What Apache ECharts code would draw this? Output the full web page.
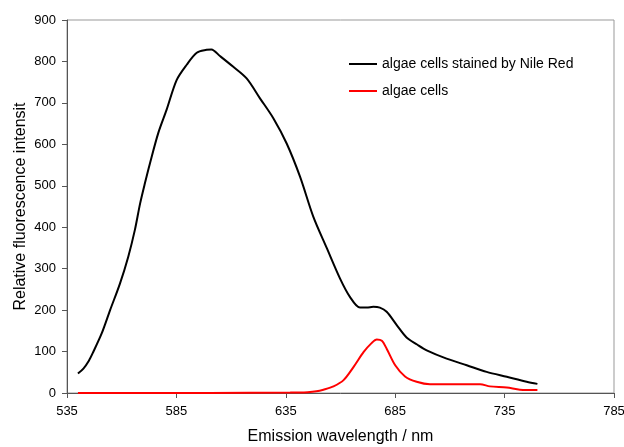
<!DOCTYPE html>
<html>
<head>
<meta charset="utf-8">
<script src="https://cdn.jsdelivr.net/npm/echarts@6/dist/echarts.min.js"></script>
<style>
html, body { margin: 0; padding: 0; background: #fff; }
#chart { width: 624px; height: 447px; }
</style>
</head>
<body>
<div id="chart"></div>
<script>
// x tick labels (nm)
var xTicks = [535, 585, 635, 685, 735, 785];

// algae cells stained by Nile Red
var stainedX = [540, 542.5, 545, 547, 550.8, 554.7, 559.2, 563, 566, 568.4, 570.6, 572.9, 576.7, 580.5, 585.1, 589.7, 594.3, 598.8, 601, 604.9, 611, 617.1, 623.2, 629.3, 635.4, 641.5, 647.6, 653.7, 659.8, 664.3, 668.9, 672, 675, 678, 681.1, 685.7, 690.2, 695, 699.4, 708.5, 717.7, 726.8, 736, 745.1, 750];
var stainedY = [47, 59, 78, 99, 143, 200, 264, 329, 393, 457, 506, 554, 627, 683, 755, 792, 821, 828, 829, 813, 787, 759, 711, 663, 602, 522, 425, 350, 276, 232, 206, 206, 208, 206, 196, 164, 134, 117, 103, 83, 67, 51, 39, 27, 22];

// algae cells
var cellsX = [540, 600, 637, 645, 649, 652.2, 656.8, 661.4, 666, 670.6, 674.3, 676.6, 678.9, 681.1, 685, 689.5, 694.8, 700.9, 712, 723.8, 728.3, 736, 742, 750];
var cellsY = [0, 0, 1, 2, 4, 8, 16, 31, 63, 99, 121, 129, 126, 107, 67, 40, 27, 21, 21, 21, 16, 13, 8, 7];

function pairs(xs, ys) {
    var out = [];
    for (var i = 0; i < xs.length; i++) {
        out.push([xs[i], ys[i]]);
    }
    return out;
}

var myChart = echarts.init(document.getElementById('chart'));
var font = "'Liberation Sans', Arial, sans-serif";

var option = {
    animation: false,
    textStyle: { fontFamily: font },
    grid: {
        left: 67, right: 10, top: 20, bottom: 54,
        outerBoundsMode: 'none',
        containLabel: false,
        show: true, borderColor: '#999', borderWidth: 1
    },
    legend: {
        orient: 'vertical',
        left: 344, top: 52,
        icon: 'rect',
        itemWidth: 28, itemHeight: 2,
        itemGap: 13,
        textStyle: { fontSize: 14, color: '#000', fontFamily: font },
        data: ['algae cells stained by Nile Red', 'algae cells']
    },
    xAxis: {
        type: 'value',
        min: 535, max: 785,
        name: 'Emission wavelength / nm',
        nameLocation: 'middle',
        nameGap: 36,
        nameMoveOverlap: false,
        nameTextStyle: { fontSize: 16, color: '#000', fontFamily: font },
        axisLine: { lineStyle: { color: '#555', width: 1 } },
        axisTick: { show: true, length: 5, lineStyle: { color: '#555' }, customValues: xTicks },
        axisLabel: { fontSize: 13, color: '#000', margin: 12, customValues: xTicks },
        splitLine: { show: false }
    },
    yAxis: {
        type: 'value',
        min: 0, max: 900, interval: 100,
        name: 'Relative fluorescence intensity',
        nameLocation: 'middle',
        nameGap: 38,
        nameMoveOverlap: false,
        nameTruncate: { maxWidth: 211, ellipsis: '' },
        nameTextStyle: { fontSize: 16, color: '#000', fontFamily: font },
        axisLine: { show: true, lineStyle: { color: '#555', width: 1 } },
        axisTick: { show: true, length: 5, lineStyle: { color: '#555' } },
        axisLabel: { fontSize: 13, color: '#000', margin: 11 },
        splitLine: { show: false }
    },
    series: [
        {
            name: 'algae cells stained by Nile Red',
            type: 'line',
            data: pairs(stainedX, stainedY),
            showSymbol: false,
            smooth: 0.3,
            itemStyle: { color: '#000' },
            lineStyle: { color: '#000', width: 2 }
        },
        {
            name: 'algae cells',
            type: 'line',
            data: pairs(cellsX, cellsY),
            showSymbol: false,
            smooth: 0.3,
            itemStyle: { color: '#ff0000' },
            lineStyle: { color: '#ff0000', width: 2 }
        }
    ]
};

myChart.setOption(option);
</script>
</body>
</html>
